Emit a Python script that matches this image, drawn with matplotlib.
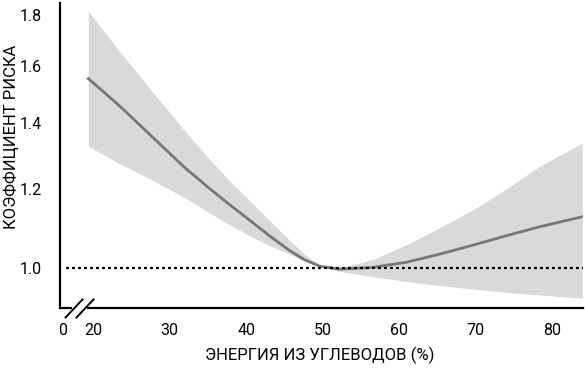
import numpy as np
import matplotlib
matplotlib.use("Agg")
import matplotlib.pyplot as plt
from matplotlib.lines import Line2D
from matplotlib.ticker import FixedLocator, FixedFormatter, NullLocator

# energy from carbohydrates (%), risk ratio curve and confidence band
carbs = [19.4, 23.3, 27.65, 32.0, 35.25, 37.86, 40.47, 43.08, 45.68, 47.64, 49.6, 52.2,
         56.5, 60.9, 65.2, 69.6, 73.9, 78.3, 83.9]
risk = [1.552, 1.461, 1.358, 1.262, 1.202, 1.158, 1.117, 1.077, 1.041, 1.019, 1.004, 0.997,
        1.001, 1.013, 1.032, 1.054, 1.077, 1.100, 1.126]
upper = [1.815, 1.660, 1.509, 1.375, 1.286, 1.224, 1.169, 1.116, 1.066, 1.032, 1.007, 1.0,
         1.019, 1.055, 1.097, 1.144, 1.200, 1.266, 1.336]
lower = [1.326, 1.276, 1.227, 1.177, 1.136, 1.105, 1.077, 1.053, 1.032, 1.016, 1.004, 0.992,
         0.980, 0.969, 0.960, 0.952, 0.945, 0.939, 0.932]

xticks = [16, 20, 30, 40, 50, 60, 70, 80]
xlabels = ["0", "20", "30", "40", "50", "60", "70", "80"]
yticks = [1.0, 1.2, 1.4, 1.6, 1.8]
ylabels = ["1.0", "1.2", "1.4", "1.6", "1.8"]

plt.rcParams['font.family'] = ['Roboto', 'DejaVu Sans']

fig = plt.figure(figsize=(5.85, 3.70), dpi=100)
ax = fig.add_axes([60 / 585, 1 - 308 / 370, 523 / 585, 305 / 370])

ax.fill_between(carbs, lower, upper, color="#d9d9d9", lw=0)
ax.plot(carbs, risk, color="#777777", lw=2, solid_joinstyle="round")
ax.axhline(1.0, xmin=0.012, xmax=1, color="black", lw=1.6, ls=(0, (1.3, 1.4)))

ax.set_yscale("log")
ax.set_xlim(15.7, 84)
ax.set_ylim(0.911, 1.85)

ax.yaxis.set_major_locator(FixedLocator(yticks))
ax.yaxis.set_major_formatter(FixedFormatter(ylabels))
ax.yaxis.set_minor_locator(NullLocator())
ax.set_xticks(xticks)
ax.set_xticklabels(xlabels)
ax.tick_params(length=0, labelsize=11.5, colors="black")
ax.tick_params(axis="y", pad=13)
ax.tick_params(axis="x", pad=11)

for s in ["top", "right"]:
    ax.spines[s].set_visible(False)
for s in ["left", "bottom"]:
    ax.spines[s].set_linewidth(1.6)

ax.set_xlabel("ЭНЕРГИЯ ИЗ УГЛЕВОДОВ (%)", fontsize=12, va="center")
ax.xaxis.set_label_coords((320 - 60) / 523, (308 - 355) / 305)
ax.set_ylabel("КОЭФФИЦИЕНТ РИСКА", fontsize=12, va="center")
ax.yaxis.set_label_coords((11 - 60) / 523, (308 - 137) / 305)

# axis break marks
W, H = 585.0, 370.0
def fx(p):
    return p / W
def fy(p):
    return 1 - p / H
fig.add_artist(Line2D([fx(74), fx(85)], [fy(308), fy(308)], color="white", lw=3))
for cx in (74, 85):
    fig.add_artist(Line2D([fx(cx - 8.5), fx(cx + 8.5)], [fy(317.5), fy(299.5)],
                          color="black", lw=1.4))

fig.savefig("out.png", dpi=100)
